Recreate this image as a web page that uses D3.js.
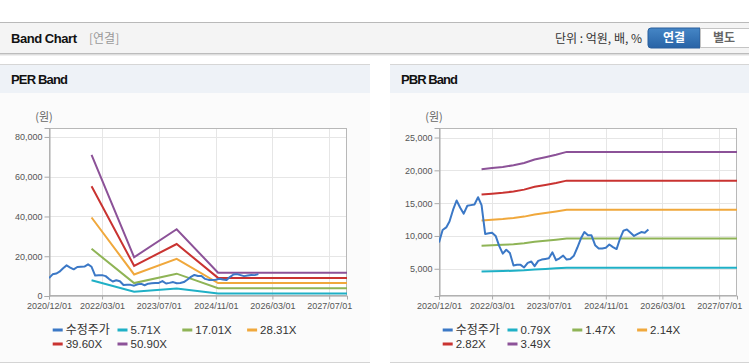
<!DOCTYPE html>
<html><head><meta charset="utf-8">
<script src="https://cdn.jsdelivr.net/npm/d3@7"></script>
<style>
html,body{margin:0;padding:0;background:#fff;}
svg{display:block;font-family:"Liberation Sans",Arial,"Noto Sans CJK KR",sans-serif;}
</style></head><body>
<svg id="c" width="749" height="364"></svg>
<script>
// ---------- data ----------
const priceDates = [
 "2020/12/01",
 "2021/01/01","2021/02/01","2021/03/01","2021/04/01","2021/05/01","2021/06/01","2021/07/01","2021/08/01","2021/09/01","2021/10/01","2021/11/01","2021/12/01",
 "2022/01/01","2022/02/01","2022/03/01","2022/04/01","2022/05/01","2022/06/01","2022/07/01","2022/08/01","2022/09/01","2022/10/01","2022/11/01","2022/12/01",
 "2023/01/01","2023/02/01","2023/03/01","2023/04/01","2023/05/01","2023/06/01","2023/07/01","2023/08/01","2023/09/01","2023/10/01","2023/11/01","2023/12/01",
 "2024/01/01","2024/02/01","2024/03/01","2024/04/01","2024/05/01","2024/06/01","2024/07/01","2024/08/01","2024/09/01","2024/10/01","2024/11/01","2024/12/01",
 "2025/01/01","2025/02/01","2025/03/01","2025/04/01","2025/05/01","2025/06/01","2025/07/01","2025/08/01","2025/09/01","2025/10/01","2025/11/01"
];
const priceValues = [
 9000,
 10900,11300,12200,14000,15400,14300,13400,14600,14700,14800,15900,14700,
 10300,10400,10500,10000,8500,7300,7900,7400,5500,5600,5600,5200,
 5900,6100,5400,6200,6400,6500,6600,7500,6300,6600,7000,6400,
 6500,7000,8200,9600,10600,10100,10100,8600,8100,8100,8200,8700,
 8300,8000,9500,10800,11000,10500,10000,10300,10600,10500,11000
];

const perBandDates = ["2021/12/01","2022/12/01","2023/12/01","2024/11/20","2027/12/01"];
const perLabels = ["5.71X","17.01X","28.31X","39.60X","50.90X"];
const per571  = [7965, 2187, 3769, 1313, 1313];
const per1701 = [23729, 6515, 11227, 3912, 3912];
const per2831 = [39492, 10843, 18685, 6511, 6511];
const per3960 = [55242, 15167, 26136, 9108, 9108];
const per5090 = [71006, 19495, 33594, 11707, 11707];

const pbrBandDates = ["2021/12/01","2022/03/01","2022/06/01","2022/09/01","2022/12/01","2023/03/01","2023/06/01","2023/09/01","2023/12/01","2027/12/01"];
const pbrLabels = ["0.79X","1.47X","2.14X","2.82X","3.49X"];
const pbr079 = [4566, 4606, 4645, 4701, 4780, 4898, 4977, 5064, 5163, 5163];
const pbr147 = [8497, 8570, 8644, 8747, 8894, 9114, 9261, 9423, 9606, 9606];
const pbr214 = [12369, 12476, 12583, 12733, 12947, 13268, 13482, 13717, 13985, 13985];
const pbr282 = [16300, 16441, 16582, 16779, 17061, 17484, 17766, 18076, 18429, 18429];
const pbr349 = [20172, 20347, 20521, 20766, 21115, 21638, 21987, 22371, 22807, 22807];

const priceLabel = "수정주가";
const perYTicks = [0, 20000, 40000, 60000, 80000];
const pbrYTicks = [5000, 10000, 15000, 20000, 25000];
const xTickLabels = ["2020/12/01","2022/03/01","2023/07/01","2024/11/01","2026/03/01","2027/07/01"];
const xDomainLabels = ["2020/12/01","2027/12/01"];
const perYDomain = [0, 84500];
const pbrYDomain = [850, 26450];

const priceColor = "#3b78c6";
const bandColors = ["#1fb0c6","#8fb456","#f0a83c","#c93331","#8c5298"];

// ---------- drawing ----------
const parse = d3.timeParse("%Y/%m/%d");
const svg = d3.select("#c");
const fmt = d3.format(",");

const defs = svg.append("defs");
const grad = defs.append("linearGradient").attr("id","btn").attr("x1",0).attr("y1",0).attr("x2",0).attr("y2",1);
grad.append("stop").attr("offset","0%").attr("stop-color","#4586c6");
grad.append("stop").attr("offset","100%").attr("stop-color","#2863a6");

svg.append("rect").attr("x",0).attr("y",22).attr("width",749).attr("height",31).attr("fill","#f4f4f4");
svg.append("rect").attr("x",0).attr("y",22).attr("width",749).attr("height",1).attr("fill","#b9b9b9");
svg.append("rect").attr("x",0).attr("y",53).attr("width",749).attr("height",1).attr("fill","#bcbcbc");
svg.append("rect").attr("x",0).attr("y",54).attr("width",749).attr("height",1).attr("fill","#dedede");
svg.append("rect").attr("x",0).attr("y",55).attr("width",749).attr("height",1).attr("fill","#efefef");

svg.append("text").attr("x",11).attr("y",43).attr("font-size",13).attr("font-weight","bold").attr("fill","#111")
  .attr("textLength",66).text("Band Chart");
svg.append("text").attr("x",89).attr("y",43).attr("font-size",12).attr("fill","#999")
  .attr("font-family","'Noto Sans CJK KR',sans-serif").text("[연결]");
svg.append("text").attr("x",642).attr("y",43).attr("font-size",12).attr("fill","#333").attr("text-anchor","end")
  .attr("font-family","'Noto Sans CJK KR',sans-serif").text("단위 : 억원, 배, %");

svg.append("path").attr("d","M651,28 H700 V48 H651 Q648,48 648,45 V31 Q648,28 651,28 Z").attr("fill","url(#btn)").attr("stroke","#2a5f9c");
svg.append("text").attr("x",674).attr("y",42).attr("text-anchor","middle").attr("font-size",12).attr("font-weight","bold")
  .attr("fill","#fff").attr("font-family","'Noto Sans CJK KR',sans-serif").text("연결");
svg.append("rect").attr("x",700.5).attr("y",28.5).attr("width",52).attr("height",19).attr("fill","#fff").attr("stroke","#c4c4c4");
svg.append("text").attr("x",724).attr("y",42).attr("text-anchor","middle").attr("font-size",12).attr("font-weight","bold")
  .attr("fill","#666").attr("font-family","'Noto Sans CJK KR',sans-serif").text("별도");

function panel(opt) {
  const g = svg.append("g");
  g.append("rect").attr("x",opt.px0).attr("y",64).attr("width",opt.px1-opt.px0).attr("height",299).attr("fill","#fbfbfb");
  g.append("rect").attr("x",opt.px0).attr("y",64).attr("width",opt.px1-opt.px0).attr("height",29).attr("fill","#eef2f7");
  g.append("rect").attr("x",opt.px0).attr("y",64).attr("width",opt.px1-opt.px0).attr("height",1).attr("fill","#d6d6d6");
  g.append("rect").attr("x",opt.px0).attr("y",362).attr("width",opt.px1-opt.px0).attr("height",1).attr("fill","#d4d4d4");
  g.append("text").attr("x",opt.px0+11).attr("y",84).attr("font-size",13).attr("font-weight","bold").attr("fill","#111")
    .attr("textLength",57).text(opt.title);

  const x = d3.scaleTime().domain(xDomainLabels.map(parse)).range([opt.x0, opt.x1]);
  const y = d3.scaleLinear().domain(opt.yDomain).range([opt.y1, opt.y0]);

  g.append("rect").attr("x",opt.x0).attr("y",opt.y0).attr("width",opt.x1-opt.x0).attr("height",opt.y1-opt.y0).attr("fill","#fff");

  const xt = xTickLabels.map(parse);
  g.append("g").selectAll("line").data(xt).join("line")
    .attr("x1",d=>Math.round(x(d))+0.5).attr("x2",d=>Math.round(x(d))+0.5)
    .attr("y1",opt.y0).attr("y2",opt.y1).attr("stroke","#e6e6e6");
  g.append("g").selectAll("line").data(opt.yTicks).join("line")
    .attr("x1",opt.x0).attr("x2",opt.x1)
    .attr("y1",d=>Math.round(y(d))+0.5).attr("y2",d=>Math.round(y(d))+0.5).attr("stroke","#e6e6e6");

  g.append("rect").attr("x",opt.x0+0.5).attr("y",opt.y0+0.5).attr("width",opt.x1-opt.x0-1).attr("height",opt.y1-opt.y0-1)
    .attr("fill","none").attr("stroke","#b8b8b8");

  const yAxis = d3.axisLeft(y).tickValues(opt.yTicks).tickFormat(fmt).tickSize(5).tickPadding(2);
  const ya = g.append("g").attr("transform",`translate(${opt.x0+0.5},0)`).call(yAxis);
  ya.select(".domain").attr("stroke","#aaa");
  ya.selectAll(".tick line").attr("stroke","#aaa");
  ya.selectAll("text").attr("fill","#555").attr("font-size",9).attr("font-family","'Liberation Sans',Arial,sans-serif");

  const xAxis = d3.axisBottom(x).tickValues(xt).tickFormat(d3.timeFormat("%Y/%m/%d")).tickSize(4).tickPadding(3);
  const xa = g.append("g").attr("transform",`translate(0,${opt.y1-0.5})`).call(xAxis);
  xa.select(".domain").attr("stroke","#aaa");
  xa.selectAll(".tick line").attr("stroke","#aaa");
  xa.selectAll("text").attr("fill","#555").attr("font-size",9).attr("font-family","'Liberation Sans',Arial,sans-serif");

  g.append("text").attr("x",opt.x0-5).attr("y",121).attr("font-size",11).attr("fill","#666").attr("text-anchor","middle")
    .attr("font-family","'Noto Sans CJK KR',sans-serif").text("(원)");

  const clipId = "clip"+opt.title.replace(/\s/g,"");
  defs.append("clipPath").attr("id",clipId).append("rect")
    .attr("x",opt.x0).attr("y",opt.y0).attr("width",opt.x1-opt.x0).attr("height",opt.y1-opt.y0);
  const lg = g.append("g").attr("clip-path",`url(#${clipId})`);
  const line = d3.line().x(d=>x(d[0])).y(d=>y(d[1]));
  opt.bands.forEach((vals,i)=>{
    const pts = opt.bandDates.map((d,j)=>[parse(d), vals[j]]);
    lg.append("path").attr("d",line(pts)).attr("fill","none").attr("stroke",bandColors[i]).attr("stroke-width",2);
  });
  const ppts = priceDates.map((d,j)=>[parse(d), priceValues[j]]);
  lg.append("path").attr("d",line(ppts)).attr("fill","none").attr("stroke",priceColor).attr("stroke-width",2)
    .attr("stroke-linejoin","round");

  const items = [{label:priceLabel,color:priceColor}].concat(opt.labels.map((l,i)=>({label:l,color:bandColors[i]})));
  items.forEach((it,i)=>{
    const col = i%4, row = Math.floor(i/4);
    const lx = opt.legX + col*64.8, ly = 330 + row*14;
    g.append("rect").attr("x",lx).attr("y",ly-1.5).attr("width",10).attr("height",3).attr("fill",it.color);
    g.append("text").attr("x",lx+13).attr("y",ly+4).attr("font-size",i===0?12:11.5).attr("fill","#333")
      .attr("font-family",i===0?"'Noto Sans CJK KR',sans-serif":"'Liberation Sans',Arial,sans-serif")
      .text(it.label);
  });
}

panel({title:"PER Band", px0:0, px1:370, x0:49, x1:347, y0:128, y1:296, yDomain:perYDomain, yTicks:perYTicks,
  bandDates:perBandDates, bands:[per571,per1701,per2831,per3960,per5090], labels:perLabels, legX:52.7});
panel({title:"PBR Band", px0:390, px1:749, x0:439, x1:737, y0:128, y1:296, yDomain:pbrYDomain, yTicks:pbrYTicks,
  bandDates:pbrBandDates, bands:[pbr079,pbr147,pbr214,pbr282,pbr349], labels:pbrLabels, legX:442.7});
</script>
</body></html>
